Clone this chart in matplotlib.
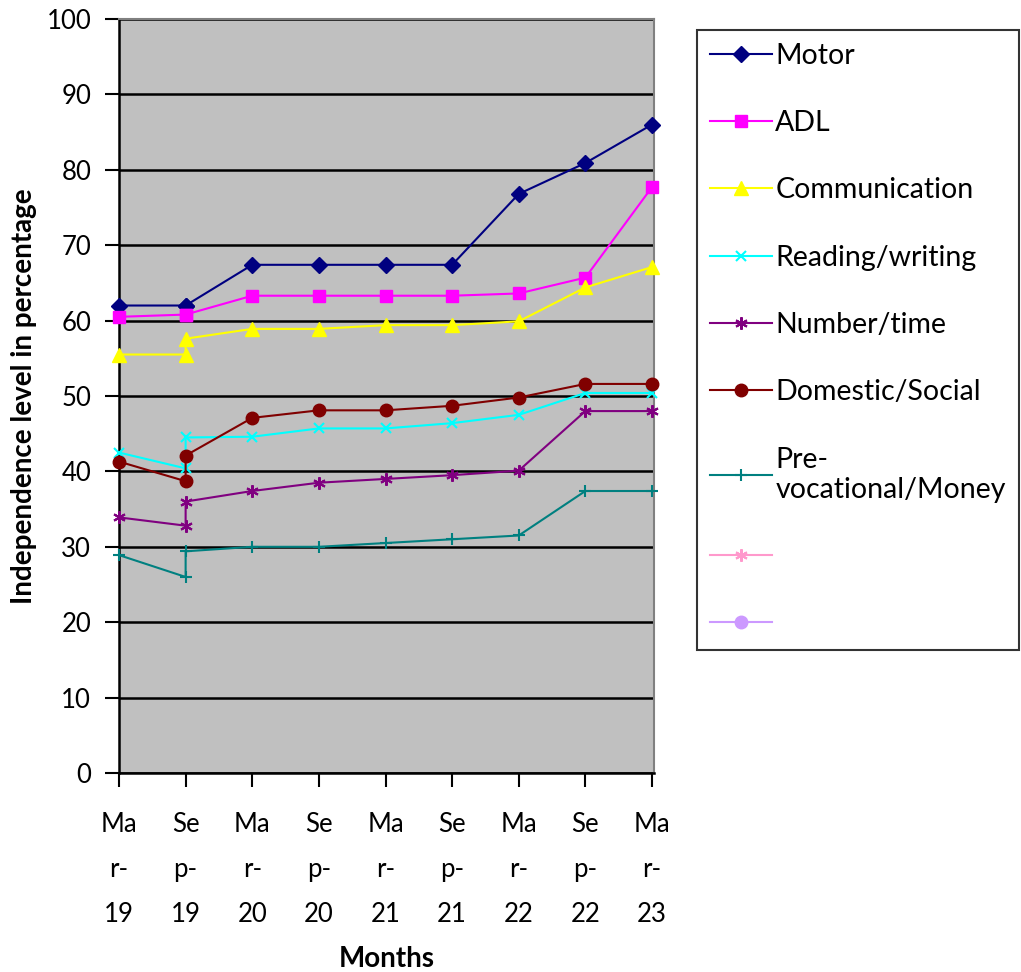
import matplotlib
matplotlib.use("Agg")
import matplotlib.pyplot as plt
from matplotlib.lines import Line2D

plt.rcParams['font.family'] = ['Lato', 'DejaVu Sans']

month_labels = ["Ma\nr-\n19", "Se\np-\n19", "Ma\nr-\n20", "Se\np-\n20", "Ma\nr-\n21",
                "Se\np-\n21", "Ma\nr-\n22", "Se\np-\n22", "Ma\nr-\n23"]
# Sep-19 is recorded twice (two assessments at the same month)
x_pos = [0, 1, 1, 2, 3, 4, 5, 6, 7, 8]

motor = [62.0, 62.0, 62.0, 67.4, 67.4, 67.4, 67.4, 76.8, 80.9, 86.0]
adl = [60.5, 60.8, 60.8, 63.3, 63.3, 63.3, 63.3, 63.6, 65.7, 77.7]
communication = [55.5, 55.5, 57.6, 58.9, 58.9, 59.4, 59.4, 59.9, 64.4, 67.1]
reading = [42.5, 40.4, 44.5, 44.6, 45.7, 45.7, 46.4, 47.5, 50.4, 50.4]
number = [33.9, 32.8, 36.0, 37.4, 38.5, 39.0, 39.5, 40.1, 48.0, 48.0]
domestic = [41.3, 38.7, 42.1, 47.1, 48.1, 48.1, 48.7, 49.8, 51.6, 51.6]
prevoc = [28.9, 26.0, 29.4, 30.0, 30.0, 30.5, 31.0, 31.5, 37.4, 37.4]

series = [
    ("Motor", motor, "#000080", "D", 8, 1.5),
    ("ADL", adl, "#FF00FF", "s", 8.5, 1.5),
    ("Communication", communication, "#FFFF00", "^", 10, 1.5),
    ("Reading/writing", reading, "#00FFFF", "x", 7, 1.5),
    ("Number/time", number, "#800080", (6, 2, 0), 9, 1.5),
    ("Domestic/Social", domestic, "#800000", "o", 9, 1.5),
    ("Pre-\nvocational/Money", prevoc, "#008080", "+", 9, 1.5),
]

fig = plt.figure(figsize=(10.21, 9.72), dpi=100)
ax = fig.add_axes([119/1021, 1 - 773/972, 535/1021, 754/972])
ax.set_facecolor("#C0C0C0")

for label, vals, color, marker, ms, lw in series:
    ax.plot(x_pos, vals, color=color, marker=marker, markersize=ms, linewidth=lw,
            markeredgewidth=1.5 if marker in ("x", "+", (6, 2, 0)) else 1.0,
            label=label, clip_on=False, zorder=3)

ax.set_ylim(0, 100)
ax.set_xlim(0.0, 8.03)
ax.set_yticks(range(0, 101, 10))
ax.set_xticks(range(9))
ax.set_xticklabels(month_labels, linespacing=2.0)
ax.yaxis.grid(True, color="black", linewidth=1.8)
ax.set_axisbelow(True)
ax.tick_params(axis="both", direction="out", width=1.5, labelsize=18.5, color="black")
ax.tick_params(axis="x", length=10, pad=18)
ax.tick_params(axis="y", length=10, pad=10)
for s in ["left", "bottom"]:
    ax.spines[s].set_color("black")
    ax.spines[s].set_linewidth(1.8)
for s in ["right", "top"]:
    ax.spines[s].set_color("#808080")
    ax.spines[s].set_linewidth(1.5)

ax.set_ylabel("Independence level in percentage", fontsize=20, fontweight="bold", labelpad=7)
ax.set_xlabel("Months", fontsize=20, fontweight="bold", labelpad=14)

handles, labels = ax.get_legend_handles_labels()
handles += [Line2D([], [], color="#FF99CC", marker=(6, 2, 0), markersize=9, markeredgewidth=1.5),
            Line2D([], [], color="#CC99FF", marker="o", markersize=9)]
labels += [" ", " "]

leg = fig.legend(handles, labels, loc="upper left", bbox_to_anchor=(697/1021, 1 - 30/972),
                 fontsize=20.5, frameon=True, fancybox=False, edgecolor="black",
                 labelspacing=1.45, handlelength=2.2, handletextpad=0.1,
                 borderpad=0.45, borderaxespad=0)
leg.get_frame().set_linewidth(1.5)

fig.savefig("out.png", dpi=100)
